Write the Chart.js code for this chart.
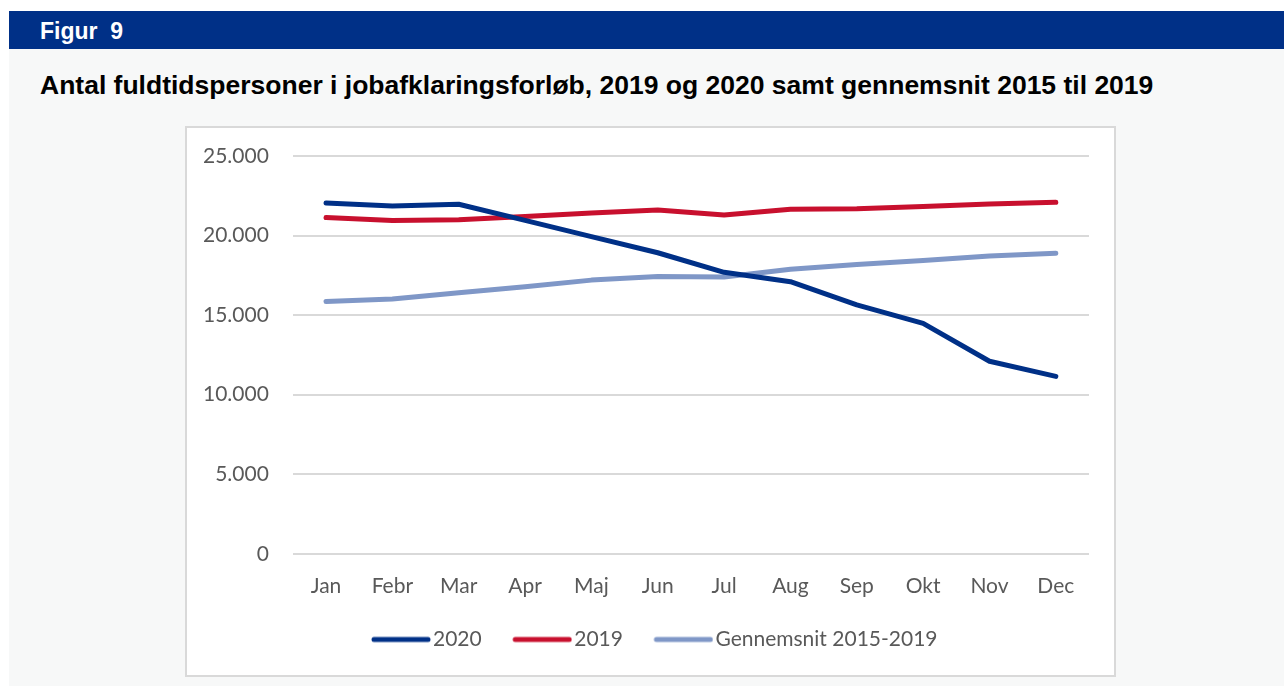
<!DOCTYPE html>
<html lang="da">
<head>
<meta charset="UTF-8">
<title>Figur 9</title>
<script src="https://cdn.jsdelivr.net/npm/chart.js"></script>
<style>
  body { margin: 0; background: #ffffff; width: 1284px; height: 686px; position: relative; overflow: hidden; font-family: "Liberation Sans", Arial, sans-serif; }
  .bar { position: absolute; left: 9px; top: 11px; width: 1275px; height: 38px; background: #003087; }
  .bar span { position: absolute; left: 31px; top: 9px; color: #fff; font-weight: bold; font-size: 23px; line-height: 1; white-space: pre; }
  .panel { position: absolute; left: 9px; top: 49px; width: 1275px; height: 637px; background: #f7f8f8; }
  h1 { position: absolute; left: 40px; top: 72px; margin: 0; font-size: 26.5px; line-height: 1; font-weight: bold; color: #000; white-space: nowrap; }
  .box { position: absolute; left: 185px; top: 126px; width: 927px; height: 547px; background: #fff; border: 2px solid #d9d9d9; }
</style>
</head>
<body>
<div class="bar"><span>Figur  9</span></div>
<div class="panel"></div>
<h1>Antal fuldtidspersoner i jobafklaringsforløb, 2019 og 2020 samt gennemsnit 2015 til 2019</h1>
<div class="box"><canvas id="chart" width="927" height="547"></canvas></div>

<script>
  // data
  const months = ['Jan', 'Febr', 'Mar', 'Apr', 'Maj', 'Jun', 'Jul', 'Aug', 'Sep', 'Okt', 'Nov', 'Dec'];
  const values2020 = [22050, 21860, 21970, 20950, 19930, 18920, 17690, 17100, 15640, 14480, 12100, 11150];
  const values2019 = [21130, 20940, 21000, 21200, 21420, 21600, 21290, 21650, 21690, 21830, 21980, 22090];
  const valuesAvg = [15850, 16020, 16400, 16780, 17200, 17420, 17390, 17880, 18180, 18440, 18720, 18890];
  const yTicks = [0, 5000, 10000, 15000, 20000, 25000];

  const blue = '#003087';
  const red = '#c8102e';
  const lightBlue = '#7f97c7';
  const textColor = '#595959';
  const tickFont = { family: 'Lato', size: 21 };

  // legend line sample: box is wider than the line, line sits at its right end next to the text
  const legendBox = 72;
  function legendLine(color) {
    const c = document.createElement('canvas');
    c.width = legendBox + 17; c.height = 8;
    const g = c.getContext('2d');
    g.strokeStyle = color;
    g.lineWidth = 5;
    g.lineCap = 'round';
    g.beginPath();
    g.moveTo(c.width - 57, 4);
    g.lineTo(c.width - 3, 4);
    g.stroke();
    return c;
  }

  function fmt(v) {
    return String(v).replace(/\B(?=(\d{3})+(?!\d))/g, '.');
  }

  function series(label, data, color) {
    return {
      label: label,
      data: data,
      borderColor: color,
      backgroundColor: color,
      borderWidth: 5,
      borderCapStyle: 'round',
      borderJoinStyle: 'round',
      pointRadius: 0,
      pointHoverRadius: 0,
      pointStyle: legendLine(color),
      tension: 0
    };
  }

  // the legend in the figure is centred on the frame, nudge it right a bit
  const legendShift = {
    id: 'legendShift',
    afterLayout(chart) {
      chart.legend.left += 10;
      chart.legend.right += 10;
    }
  };

  new Chart(document.getElementById('chart'), {
    type: 'line',
    data: {
      labels: months,
      datasets: [
        series('2020', values2020, blue),
        series('2019', values2019, red),
        series('Gennemsnit 2015-2019', valuesAvg, lightBlue)
      ]
    },
    plugins: [legendShift],
    options: {
      responsive: false,
      animation: false,
      layout: { padding: { left: -8, right: 25, top: 28, bottom: 15 } },
      plugins: {
        tooltip: { enabled: false },
        legend: {
          position: 'bottom',
          labels: {
            usePointStyle: true,
            pointStyleWidth: legendBox,
            color: textColor,
            font: tickFont,
            padding: 10
          }
        }
      },
      scales: {
        x: {
          offset: true,
          grid: { display: false, drawTicks: false },
          border: { display: false },
          ticks: { color: textColor, font: tickFont, padding: 20, maxRotation: 0, autoSkip: false }
        },
        y: {
          min: 0,
          max: 25000,
          afterBuildTicks: function (axis) { axis.ticks = yTicks.map(v => ({ value: v })); },
          // tick padding would otherwise push the plot top down
          afterFit: function (axis) { axis.paddingTop = 0; axis.paddingBottom = 0; },
          grid: { color: '#d9d9d9', lineWidth: 2, drawTicks: false },
          border: { display: false },
          ticks: { color: textColor, font: tickFont, padding: 24, callback: v => fmt(v) }
        }
      }
    }
  });
</script>
</body>
</html>
